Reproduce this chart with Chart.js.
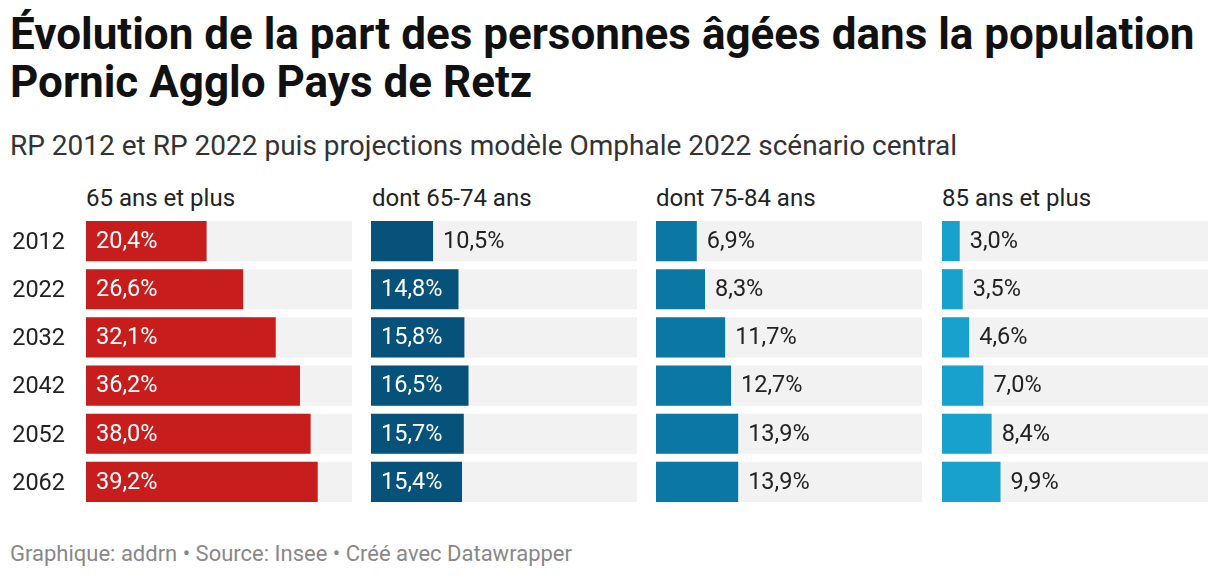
<!DOCTYPE html>
<html lang="fr">
<head>
<meta charset="utf-8">
<script src="https://cdn.jsdelivr.net/npm/chart.js@4"></script>
<style>
  body { margin: 0; background: #fff; font-family: Roboto, sans-serif; color: #222; }
  #wrap { position: relative; width: 1220px; height: 578px; overflow: hidden; }
  h1 { position: absolute; left: 10px; top: 10px; margin: 0; font-size: 44px; line-height: 48px; font-weight: 700; color: #111; white-space: nowrap; }
  .sub { position: absolute; left: 10px; top: 132px; font-size: 28px; line-height: 28px; color: #333; white-space: nowrap; }
  .head { position: absolute; top: 186px; font-size: 24px; line-height: 24px; color: #222; }
  .box { position: absolute; top: 217px; height: 289px; }
  .foot { position: absolute; left: 10px; top: 543px; font-size: 22px; line-height: 22px; color: #888; }
</style>
</head>
<body>
<div id="wrap">
  <h1>Évolution de la part des personnes âgées dans la population<br>Pornic Agglo Pays de Retz</h1>
  <div class="sub">RP 2012 et RP 2022 puis projections modèle Omphale 2022 scénario central</div>

  <div class="head" style="left:86px">65 ans et plus</div>
  <div class="head" style="left:372px">dont 65-74 ans</div>
  <div class="head" style="left:656px">dont 75-84 ans</div>
  <div class="head" style="left:942px">85 ans et plus</div>

  <div class="box" style="left:0px;width:352px"><canvas id="c1"></canvas></div>
  <div class="box" style="left:371px;width:266px"><canvas id="c2"></canvas></div>
  <div class="box" style="left:656px;width:266px"><canvas id="c3"></canvas></div>
  <div class="box" style="left:942px;width:266px"><canvas id="c4"></canvas></div>

  <div class="foot">Graphique: addrn • Source: Insee • Créé avec Datawrapper</div>
</div>

<script>
// donnees (en %)
const years = ["2012", "2022", "2032", "2042", "2052", "2062"];
const age65plus = [20.4, 26.6, 32.1, 36.2, 38.0, 39.2];
const age65_74 = [10.5, 14.8, 15.8, 16.5, 15.7, 15.4];
const age75_84 = [6.9, 8.3, 11.7, 12.7, 13.9, 13.9];
const age85plus = [3.0, 3.5, 4.6, 7.0, 8.4, 9.9];
const scaleMax = 45;

function fmt(v) {
  return v.toFixed(1).replace(".", ",") + "%";
}

// etiquettes dans ou a cote de la barre
const valueLabels = {
  id: "valueLabels",
  afterDatasetsDraw(chart) {
    const ctx = chart.ctx;
    const meta = chart.getDatasetMeta(1);
    const values = chart.data.datasets[1].data;
    ctx.save();
    ctx.font = "23.5px Roboto";
    ctx.textBaseline = "middle";
    ctx.textAlign = "left";
    meta.data.forEach((bar, i) => {
      const txt = fmt(values[i]);
      const w = ctx.measureText(txt).width;
      const barW = bar.x - bar.base;
      if (barW >= w + 22) {
        ctx.fillStyle = "#fff";
        ctx.fillText(txt, bar.base + 10, bar.y + 1);
      } else {
        ctx.fillStyle = "#222";
        ctx.fillText(txt, bar.x + 10, bar.y + 1);
      }
    });
    ctx.restore();
  },
};

function makePanel(id, values, color, showYears) {
  new Chart(document.getElementById(id), {
    type: "bar",
    data: {
      labels: years,
      datasets: [
        {
          data: years.map(() => scaleMax),
          backgroundColor: "#f2f2f2",
          order: 2,
        },
        {
          data: values,
          backgroundColor: color,
          order: 1,
        },
      ],
    },
    options: {
      indexAxis: "y",
      maintainAspectRatio: false,
      animation: false,
      layout: { padding: 0 },
      datasets: {
        bar: { categoryPercentage: 1, barPercentage: 40 / 48, borderWidth: 0 },
      },
      plugins: { legend: { display: false }, tooltip: { enabled: false } },
      scales: {
        x: { display: false, min: 0, max: scaleMax, stacked: false },
        y: {
          display: showYears,
          stacked: true,
          grid: { display: false, drawTicks: false },
          border: { display: false },
          ticks: { color: "#222", font: { family: "Roboto", size: 23.5 }, padding: 21, labelOffset: 2 },
          afterFit: (axis) => {
            if (!showYears) return;
            axis.width = 86;
            axis.paddingTop = 0;
            axis.paddingBottom = 0;
          },
        },
      },
    },
    plugins: [valueLabels],
  });
}

makePanel("c1", age65plus, "#c71e1d", true);
makePanel("c2", age65_74, "#06527b", false);
makePanel("c3", age75_84, "#0a78a2", false);
makePanel("c4", age85plus, "#19a1cd", false);
</script>
</body>
</html>
